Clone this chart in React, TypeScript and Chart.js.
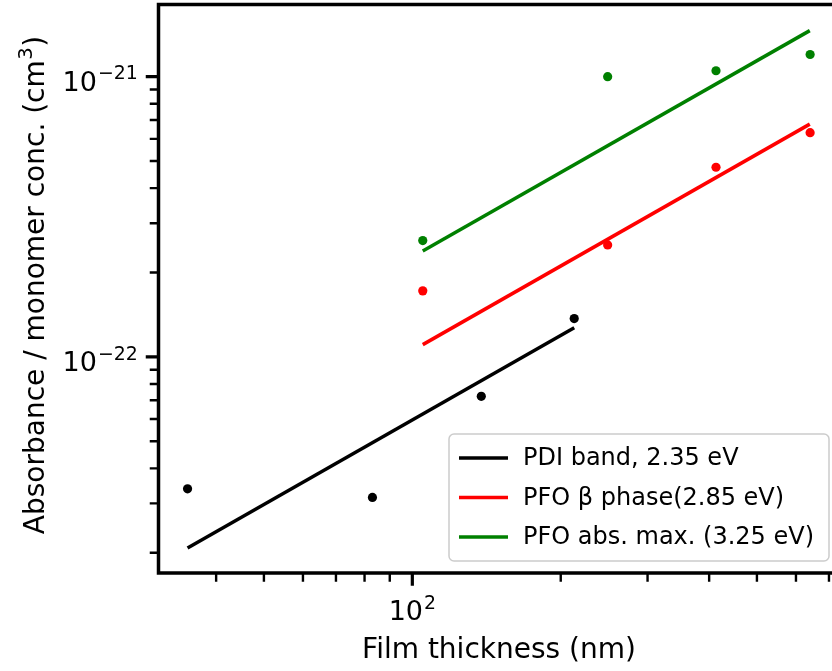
import { useEffect, useRef } from "react";
import { Chart, registerables } from "chart.js";

Chart.register(...registerables);

// Film thickness (nm) and absorbance / monomer concentration (cm^3)
const thicknessPDI = [35, 83, 138, 213];
const pdiBand = [3.38e-23, 3.15e-23, 7.23e-23, 1.37e-22];

const thicknessPFO = [105, 249, 413, 641];
const pfoBeta = [1.72e-22, 2.51e-22, 4.75e-22, 6.31e-22];
const pfoAbsMax = [2.6e-22, 1.0e-21, 1.05e-21, 1.2e-21];

// Power-law fit end points
const pdiFitX = [35, 213];
const pdiFit = [2.08e-23, 1.27e-22];
const pfoFitX = [105, 640];
const pfoBetaFit = [1.106e-22, 6.77e-22];
const pfoAbsFit = [2.385e-22, 1.46e-21];

const seriesLabels = ["PDI band, 2.35 eV", "PFO \u03b2 phase(2.85 eV)", "PFO abs. max. (3.25 eV)"];
const seriesColors = ["#000000", "#ff0000", "#008000"];

const xRange = [30.56, 737];
const yRange = [1.693e-23, 1.808e-21];
const xMajorExponents = [2];
const yMajorExponents = [-22, -21];

const W = 850;
const H = 671;
const FONT = "'DejaVu Sans', 'Liberation Sans', sans-serif";

function pts(xs: number[], ys: number[]) {
  return xs.map((x, i) => ({ x, y: ys[i] }));
}

function minorTicks(min: number, max: number) {
  const out: number[] = [];
  for (let e = Math.floor(Math.log10(min)); e <= Math.ceil(Math.log10(max)); e++) {
    for (let m = 2; m <= 9; m++) {
      const v = m * Math.pow(10, e);
      if (v >= min && v <= max) out.push(v);
    }
  }
  return out;
}

function drawPower(ctx: CanvasRenderingContext2D, exp: number, x: number, baseline: number, align: "right" | "center", size: number) {
  const base = "10";
  const sup = exp < 0 ? "\u2212" + String(-exp) : String(exp);
  const supSize = size * 0.7;
  ctx.font = `${size}px ${FONT}`;
  const wb = ctx.measureText(base).width;
  ctx.font = `${supSize}px ${FONT}`;
  const ws = ctx.measureText(sup).width;
  const total = wb + ws + 1;
  const left = align === "right" ? x - total : x - total / 2;
  ctx.textAlign = "left";
  ctx.textBaseline = "alphabetic";
  ctx.font = `${size}px ${FONT}`;
  ctx.fillText(base, left, baseline);
  ctx.font = `${supSize}px ${FONT}`;
  ctx.fillText(sup, left + wb + 1, baseline - size * 0.42);
}

const axesPlugin = {
  id: "axesFrame",
  afterDatasetsDraw(chart: any) {
    const { ctx, chartArea, scales } = chart;
    const xs = scales.x;
    const ys = scales.y;
    const { left, top, bottom } = chartArea;
    ctx.save();
    ctx.strokeStyle = "#000";
    ctx.fillStyle = "#000";
    ctx.lineCap = "butt";

    // spines
    ctx.lineWidth = 3.5;
    ctx.beginPath();
    ctx.moveTo(left, top - 1.75);
    ctx.lineTo(left, bottom + 1.75);
    ctx.moveTo(left - 1.75, top);
    ctx.lineTo(W, top);
    ctx.moveTo(left - 1.75, bottom);
    ctx.lineTo(W, bottom);
    ctx.stroke();

    // y ticks
    const yMin = minorTicks(yRange[0], yRange[1]);
    ctx.lineWidth = 2.4;
    ctx.beginPath();
    yMin.forEach((v) => {
      const py = ys.getPixelForValue(v);
      ctx.moveTo(left - 1.75 - 7, py);
      ctx.lineTo(left, py);
    });
    ctx.stroke();
    ctx.lineWidth = 3.2;
    ctx.beginPath();
    yMajorExponents.forEach((e) => {
      const py = ys.getPixelForValue(Math.pow(10, e));
      ctx.moveTo(left - 1.75 - 11, py);
      ctx.lineTo(left, py);
    });
    ctx.stroke();
    yMajorExponents.forEach((e) => {
      const py = ys.getPixelForValue(Math.pow(10, e));
      drawPower(ctx, e, left - 1.75 - 11 - 8, py + 14, "right", 27);
    });

    // x ticks
    const xMin = minorTicks(xRange[0], xRange[1]);
    ctx.lineWidth = 2.4;
    ctx.beginPath();
    xMin.forEach((v) => {
      const px = xs.getPixelForValue(v);
      ctx.moveTo(px, bottom);
      ctx.lineTo(px, bottom + 1.75 + 7);
    });
    ctx.stroke();
    ctx.lineWidth = 3.2;
    ctx.beginPath();
    xMajorExponents.forEach((e) => {
      const px = xs.getPixelForValue(Math.pow(10, e));
      ctx.moveTo(px, bottom);
      ctx.lineTo(px, bottom + 1.75 + 11);
    });
    ctx.stroke();
    xMajorExponents.forEach((e) => {
      const px = xs.getPixelForValue(Math.pow(10, e));
      drawPower(ctx, e, px, bottom + 47, "center", 27);
    });

    // axis titles
    ctx.font = `28px ${FONT}`;
    ctx.textAlign = "center";
    ctx.textBaseline = "alphabetic";
    ctx.fillText("Film thickness (nm)", 499, 658);

    ctx.save();
    ctx.translate(44, 285);
    ctx.rotate(-Math.PI / 2);
    const main = "Absorbance / monomer conc. (cm";
    const supTxt = "3";
    const close = ")";
    ctx.font = `28px ${FONT}`;
    const w1 = ctx.measureText(main).width;
    const w3 = ctx.measureText(close).width;
    ctx.font = `${28 * 0.7}px ${FONT}`;
    const w2 = ctx.measureText(supTxt).width;
    const total = w1 + w2 + w3 + 1;
    let cx = -total / 2;
    ctx.textAlign = "left";
    ctx.font = `28px ${FONT}`;
    ctx.fillText(main, cx, 0);
    cx += w1;
    ctx.font = `${28 * 0.7}px ${FONT}`;
    ctx.fillText(supTxt, cx + 0.5, -12);
    cx += w2 + 1;
    ctx.font = `28px ${FONT}`;
    ctx.fillText(close, cx, 0);
    ctx.restore();

    // legend
    const bx = 449, by = 434, bw = 380, bh = 127, r = 5;
    ctx.beginPath();
    ctx.moveTo(bx + r, by);
    ctx.lineTo(bx + bw - r, by);
    ctx.arcTo(bx + bw, by, bx + bw, by + r, r);
    ctx.lineTo(bx + bw, by + bh - r);
    ctx.arcTo(bx + bw, by + bh, bx + bw - r, by + bh, r);
    ctx.lineTo(bx + r, by + bh);
    ctx.arcTo(bx, by + bh, bx, by + bh - r, r);
    ctx.lineTo(bx, by + r);
    ctx.arcTo(bx, by, bx + r, by, r);
    ctx.closePath();
    ctx.fillStyle = "rgba(255,255,255,0.8)";
    ctx.fill();
    ctx.strokeStyle = "#cccccc";
    ctx.lineWidth = 1.5;
    ctx.stroke();

    seriesLabels.forEach((label, i) => {
      const ry = 458 + i * 39.5;
      ctx.strokeStyle = seriesColors[i];
      ctx.lineWidth = 3.5;
      ctx.beginPath();
      ctx.moveTo(459, ry);
      ctx.lineTo(508, ry);
      ctx.stroke();
      ctx.fillStyle = "#000";
      ctx.font = `24px ${FONT}`;
      ctx.textAlign = "left";
      ctx.textBaseline = "middle";
      ctx.fillText(label, 523, ry + 1);
    });
    ctx.restore();
  },
};

export default function App() {
  const canvasRef = useRef<HTMLCanvasElement | null>(null);

  useEffect(() => {
    const canvas = canvasRef.current;
    if (!canvas) return;
    const scatterSet = (xs: number[], ys: number[], color: string) => ({
      data: pts(xs, ys),
      showLine: false,
      pointRadius: 4.6,
      pointHoverRadius: 4.6,
      pointBackgroundColor: color,
      pointBorderColor: color,
      pointBorderWidth: 0,
    });
    const fitSet = (xs: number[], ys: number[], color: string, label: string) => ({
      label,
      data: pts(xs, ys),
      showLine: true,
      pointRadius: 0,
      borderColor: color,
      borderWidth: 3.5,
      fill: false,
    });
    const chart = new Chart(canvas, {
      type: "scatter",
      data: {
        datasets: [
          scatterSet(thicknessPDI, pdiBand, seriesColors[0]),
          scatterSet(thicknessPFO, pfoBeta, seriesColors[1]),
          scatterSet(thicknessPFO, pfoAbsMax, seriesColors[2]),
          fitSet(pdiFitX, pdiFit, seriesColors[0], seriesLabels[0]),
          fitSet(pfoFitX, pfoBetaFit, seriesColors[1], seriesLabels[1]),
          fitSet(pfoFitX, pfoAbsFit, seriesColors[2], seriesLabels[2]),
        ] as any,
      },
      options: {
        responsive: false,
        animation: false,
        devicePixelRatio: 1,
        layout: { padding: { left: 158.5, top: 1.5, right: W - 840, bottom: H - 573 } },
        plugins: { legend: { display: false }, tooltip: { enabled: false } },
        scales: {
          x: { type: "logarithmic", min: xRange[0], max: xRange[1], display: false },
          y: { type: "logarithmic", min: yRange[0], max: yRange[1], display: false },
        },
      },
      plugins: [axesPlugin],
    });
    return () => chart.destroy();
  }, []);

  return (
    <div style={{ position: "fixed", left: 0, top: 0, width: 832, height: H, overflow: "hidden", background: "#fff" }}>
      <canvas ref={canvasRef} width={W} height={H} style={{ display: "block" }} />
    </div>
  );
}
